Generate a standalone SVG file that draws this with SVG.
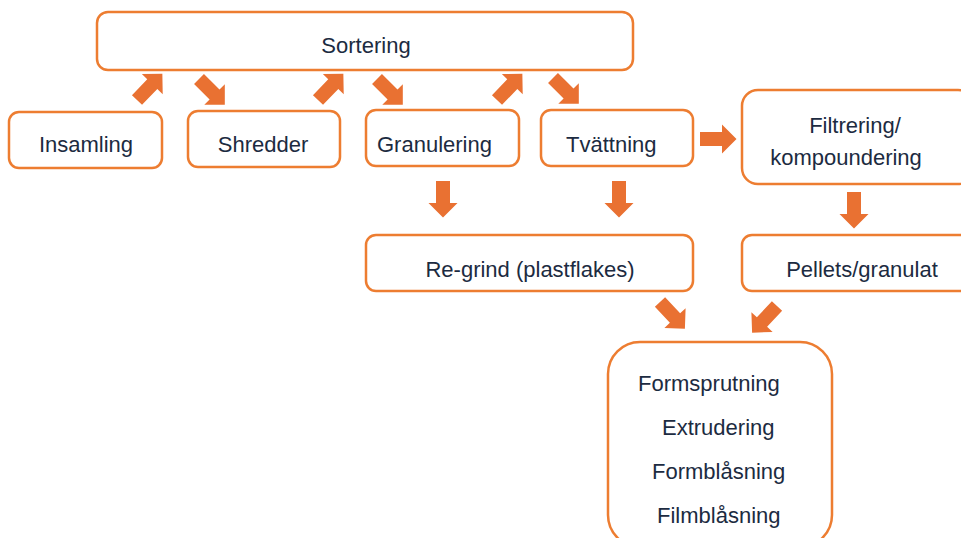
<svg xmlns="http://www.w3.org/2000/svg" width="961" height="538" viewBox="0 0 961 538">
<style>
.box{fill:#fff;stroke:#ED7D31;stroke-width:2.5}
.t{font-family:"Liberation Sans",Arial,sans-serif;font-size:22px;fill:#1C2B41}
.c{text-anchor:middle}
.arr{fill:#E97132}
</style>
<defs>
<polygon id="ar" points="0,-7 22,-7 22,-14.5 36.5,0 22,14.5 22,7 0,7"/>
</defs>
<rect width="961" height="538" fill="#fff"/>
<g id="sortering"><rect class="box" x="97" y="12" width="536" height="58" rx="11"/><text class="t c" x="366" y="53">Sortering</text></g>
<g id="insamling"><rect class="box" x="9" y="112" width="153" height="56" rx="10"/><text class="t c" x="86" y="152">Insamling</text></g>
<g id="shredder"><rect class="box" x="188" y="111" width="152" height="56" rx="10"/><text class="t c" x="263" y="152">Shredder</text></g>
<g id="granulering"><rect class="box" x="366" y="110" width="153" height="56" rx="10"/><text class="t" x="377" y="152">Granulering</text></g>
<g id="tvattning"><rect class="box" x="541" y="110" width="152" height="56" rx="10"/><text class="t" x="566" y="152">Tvättning</text></g>
<g id="filtrering"><rect class="box" x="742" y="90" width="232" height="94" rx="16"/><text class="t c" x="855" y="133">Filtrering/</text><text class="t c" x="846" y="165">kompoundering</text></g>
<g id="regrind"><rect class="box" x="366" y="235" width="327" height="56" rx="10"/><text class="t c" x="530" y="277">Re-grind (plastflakes)</text></g>
<g id="pellets"><rect class="box" x="742" y="235" width="232" height="56" rx="10"/><text class="t c" x="862" y="277">Pellets/granulat</text></g>
<g id="process"><rect class="box" x="608" y="342" width="224" height="205" rx="32"/>
<text class="t" x="638" y="391">Formsprutning</text>
<text class="t" x="662" y="435">Extrudering</text>
<text class="t" x="652" y="479">Formblåsning</text>
<text class="t" x="657" y="523">Filmblåsning</text></g>
<g id="connectors" class="arr">
<use href="#ar" transform="translate(137,100) rotate(-46)"/>
<use href="#ar" transform="translate(199,79) rotate(45)"/>
<use href="#ar" transform="translate(318,100) rotate(-46)"/>
<use href="#ar" transform="translate(377,79) rotate(45)"/>
<use href="#ar" transform="translate(497,100) rotate(-46)"/>
<use href="#ar" transform="translate(553,78) rotate(45)"/>
<use href="#ar" transform="translate(700,139)"/>
<use href="#ar" transform="translate(443,181) rotate(90)"/>
<use href="#ar" transform="translate(619,181) rotate(90)"/>
<use href="#ar" transform="translate(854,192) rotate(90)"/>
<use href="#ar" transform="translate(660,302) rotate(47)"/>
<use href="#ar" transform="translate(777,306) rotate(133)"/>
</g>
</svg>
